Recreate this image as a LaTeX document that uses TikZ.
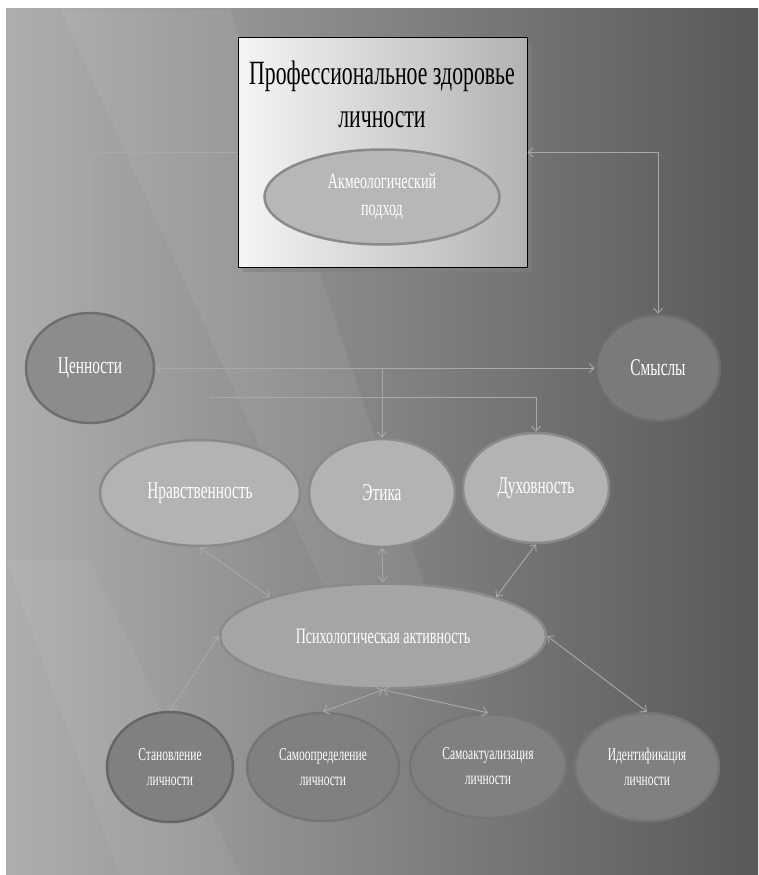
\documentclass[tikz,border=0pt]{standalone}
\usepackage{fontspec}
\newfontfamily\narrowserif[FakeStretch=0.64]{Liberation Serif}
\usetikzlibrary{shapes.geometric,arrows.meta,shadows,calc}
\definecolor{BackLight}{HTML}{AEAEAE}
\definecolor{BackDark}{HTML}{595959}
\definecolor{LinkGray}{HTML}{A9A9A9}
\definecolor{RimGray}{HTML}{8A8A8A}
\definecolor{PaleFill}{HTML}{B3B3B3}
\definecolor{MidFill}{HTML}{8C8C8C}
\definecolor{DeepFill}{HTML}{808080}

\begin{document}
\begin{tikzpicture}[x=1pt,y=-1pt,
    >={Straight Barb[length=5pt,width=9pt]},
    bubble/.style={ellipse, draw=RimGray, line width=2.5pt, inner sep=0pt,
      text=white, align=center, font=\narrowserif\fontsize{24}{28}\selectfont},
    palebubble/.style={bubble, fill=PaleFill},
    smallbubble/.style={bubble, fill=DeepFill, draw=RimGray!85!black,
      font=\narrowserif\fontsize{18}{25}\selectfont},
    link/.style={draw=LinkGray, line width=0.9pt}
  ]
  \useasboundingbox (0,0) rectangle (758,875);
  % background
  \fill[left color=BackLight, right color=BackDark] (6,9) rectangle (758,875);
  \fill[white, opacity=0.06] (60,9) -- (230,9) -- (430,600) -- (330,600) -- cycle;
  \fill[white, opacity=0.05] (6,560) -- (90,560) -- (240,875) -- (120,875) -- cycle;

  % top block
  \node[draw=black, line width=1pt, minimum width=289pt, minimum height=229pt,
    left color=white!92!gray, right color=gray!60,
    drop shadow={shadow xshift=5pt, shadow yshift=-5pt, opacity=0.6}]
    (box) at (382.5,152.5) {};
  \node[align=center, font=\narrowserif\fontsize{34}{43}\selectfont]
    (title) at (382,94) {Профессиональное здоровье\\личности};
  \node[bubble, fill=PaleFill!95!white, font=\narrowserif\fontsize{22}{27}\selectfont,
    minimum width=235pt, minimum height=95pt] (akmeo) at (382,197)
    {Акмеологический\\подход};

  % middle level
  \node[bubble, fill=MidFill, draw=RimGray!80!black, minimum width=128pt,
    minimum height=110pt] (cenn) at (90,368) {Ценности};
  \node[bubble, fill=DeepFill!95!black, draw=DeepFill!85!black, minimum width=124pt,
    minimum height=106pt] (smysl) at (658,368) {Смыслы};

  \node[palebubble, minimum width=200pt, minimum height=106pt] (nrav) at (200,493) {Нравственность};
  \node[palebubble, minimum width=146pt, minimum height=108pt] (etika) at (382,493) {Этика};
  \node[palebubble, minimum width=146pt, minimum height=110pt] (duh) at (536,488) {Духовность};

  \node[bubble, fill=PaleFill!92!black, font=\narrowserif\fontsize{22}{25}\selectfont,
    minimum width=326pt, minimum height=105pt] (psych) at (383,636)
    {Психологическая активность};

  % bottom level
  \node[smallbubble, draw=black!60, minimum width=126pt, minimum height=110pt]
    (stan) at (170,767) {Становление\\личности};
  \node[smallbubble, minimum width=152pt, minimum height=108pt]
    (samoopr) at (323,767) {Самоопределение\\личности};
  \node[smallbubble, minimum width=156pt, minimum height=104pt]
    (samoakt) at (488,766) {Самоактуализация\\личности};
  \node[smallbubble, minimum width=144pt, minimum height=108pt]
    (ident) at (647,767) {Идентификация\\личности};

  % connectors
  \coordinate (fork) at (382,368);
  \coordinate (branch) at (210,397);
  \draw[link,->] (box.west) -| (cenn.north);
  \draw[link,<->] (box.east) -| (smysl.north);
  \draw[link,<->] (cenn.east) -- (smysl.west);
  \draw[link,->] (fork) -- (etika.north);
  \draw[link,->] (branch) -| (duh.north);
  \draw[link,<->] (nrav.south) -- (psych.161);
  \draw[link,<->] (etika.south) -- (psych.north);
  \draw[link,<->] (duh.south) -- (psych.19);
  \draw[link,<->] (stan.north) -- (psych.west);
  \draw[link,<->] (psych.south) -- (samoopr.north);
  \draw[link,<->] (psych.south) -- (samoakt.north);
  \draw[link,<->] (psych.east) -- (ident.north);
\end{tikzpicture}
\end{document}
